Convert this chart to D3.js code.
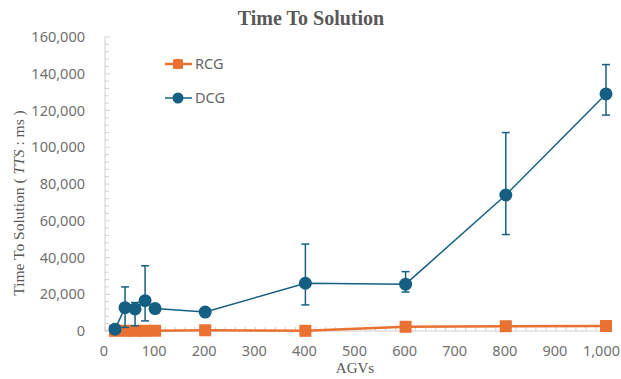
<!DOCTYPE html>
<html>
<head>
<meta charset="utf-8">
<script src="https://cdn.jsdelivr.net/npm/d3@7"></script>
<style>
  body { margin: 0; background: #fff; }
  svg { display: block; }
</style>
</head>
<body>
<svg width="621" height="379"></svg>
<script>
// dữ liệu
const agvs = [20, 40, 60, 80, 100, 200, 400, 600, 800, 1000];
const dcgValues = [1000, 12700, 12000, 16500, 12200, 10300, 26000, 25500, 74000, 129000];
const dcgLow    = [1000, 2000, 2800, 5500, 11500, 10000, 14200, 21200, 52500, 117500];
const dcgHigh   = [1000, 24000, 15500, 35500, 13000, 10600, 47300, 32300, 108000, 145000];
const rcgValues = [100, 100, 100, 100, 150, 400, 100, 2300, 2600, 2700];
const rcgLow    = [0, 0, 0, 0, 0, 0, 0, 1500, 1800, 1900];
const rcgHigh   = [600, 600, 600, 600, 700, 900, 600, 3100, 3400, 3500];
const yTicks = [0, 20000, 40000, 60000, 80000, 100000, 120000, 140000, 160000];
const xTicks = [0, 100, 200, 300, 400, 500, 600, 700, 800, 900, 1000];

const orange = "#E97132", blue = "#156082";

const svg = d3.select("svg");
const pLeft = 105, pRight = 606, pTop = 37, pBottom = 331;

const x = d3.scaleLinear().domain([0, 1000]).range([pLeft, pRight]);
const y = d3.scaleLinear().domain([0, 160000]).range([pBottom, pTop]);

// khung trục
svg.append("line").attr("x1", pLeft).attr("x2", pLeft).attr("y1", pTop).attr("y2", pBottom)
   .attr("stroke", "#d0d0d0").attr("stroke-width", 1);
svg.append("line").attr("x1", pLeft).attr("x2", 611).attr("y1", pBottom).attr("y2", pBottom)
   .attr("stroke", "#d0d0d0").attr("stroke-width", 1);

// vạch phụ trục Y
svg.append("g").selectAll("line")
   .data(d3.range(0, 160001, 4000))
   .enter().append("line")
   .attr("x1", pLeft).attr("x2", d => d % 20000 === 0 ? pLeft + 5 : pLeft + 4)
   .attr("y1", d => y(d)).attr("y2", d => y(d))
   .attr("stroke", "#d0d0d0");

// vạch phụ trục X
svg.append("g").selectAll("line")
   .data(d3.range(0, 1001, 20))
   .enter().append("line")
   .attr("x1", d => x(d)).attr("x2", d => x(d))
   .attr("y1", pBottom).attr("y2", pBottom - 4)
   .attr("stroke", "#d0d0d0");

// nhãn trục
const fmt = d3.format(",");
svg.append("g").selectAll("text")
   .data(yTicks).enter().append("text")
   .attr("x", 85).attr("y", d => y(d) + 5)
   .attr("text-anchor", "end")
   .style("font-family", "Noto Sans, sans-serif").style("font-size", "14.5px")
   .attr("fill", "#707070")
   .text(fmt);

svg.append("g").selectAll("text")
   .data(xTicks).enter().append("text")
   .attr("x", d => x(d) - 1).attr("y", 356)
   .attr("text-anchor", "middle")
   .style("font-family", "Noto Sans, sans-serif").style("font-size", "14.5px")
   .attr("fill", "#707070")
   .text(fmt)
   .each(function() {
     // giữ nhãn cuối trong khung
     const b = this.getBBox();
     if (b.x + b.width > 620) d3.select(this).attr("x", +d3.select(this).attr("x") - (b.x + b.width - 620));
   });

// tiêu đề
svg.append("text").attr("x", 311).attr("y", 25).attr("text-anchor", "middle")
   .style("font-family", "Liberation Serif, serif").style("font-size", "20px")
   .style("font-weight", "bold").attr("fill", "#595959")
   .text("Time To Solution");

svg.append("text").attr("x", 355).attr("y", 373).attr("text-anchor", "middle")
   .style("font-family", "Liberation Serif, serif").style("font-size", "15px")
   .attr("fill", "#595959").text("AGVs");

const yt = svg.append("text")
   .attr("transform", "translate(24,203) rotate(-90)")
   .attr("text-anchor", "middle")
   .style("font-family", "Liberation Serif, serif").style("font-size", "15.5px")
   .attr("fill", "#595959");
yt.append("tspan").text("Time To Solution ( ");
yt.append("tspan").style("font-style", "italic").text("TTS");
yt.append("tspan").text(" : ms )");

// vẽ chuỗi
function drawSeries(vals, lo, hi, color, marker) {
  const pts = agvs.map((a, i) => ({ a, v: vals[i], lo: lo[i], hi: hi[i] }));
  const g = svg.append("g");
  g.selectAll(".err").data(pts.filter(d => d.hi > d.lo)).enter().append("g").each(function(d) {
    const e = d3.select(this);
    e.append("line").attr("x1", x(d.a)).attr("x2", x(d.a)).attr("y1", y(d.lo)).attr("y2", y(d.hi))
     .attr("stroke", color).attr("stroke-width", 1.5);
    [d.lo, d.hi].forEach(v => e.append("line")
      .attr("x1", x(d.a) - 4).attr("x2", x(d.a) + 4).attr("y1", y(v)).attr("y2", y(v))
      .attr("stroke", color).attr("stroke-width", 1.5));
  });
  g.append("path").datum(pts)
   .attr("d", d3.line().x(d => x(d.a)).y(d => y(d.v)))
   .attr("fill", "none").attr("stroke", color).attr("stroke-width", marker === "circle" ? 1.5 : 2.5);
  if (marker === "circle") {
    g.selectAll("circle").data(pts).enter().append("circle")
     .attr("cx", d => x(d.a)).attr("cy", d => y(d.v)).attr("r", 6.5).attr("fill", color);
  } else {
    g.selectAll("rect").data(pts).enter().append("rect")
     .attr("x", d => x(d.a) - 6).attr("y", d => y(d.v) - 6).attr("width", 12).attr("height", 12)
     .attr("fill", color);
  }
}
drawSeries(rcgValues, rcgLow, rcgHigh, orange, "square");
drawSeries(dcgValues, dcgLow, dcgHigh, blue, "circle");

// chú thích
const legend = [{ name: "RCG", color: orange, m: "square", yy: 64 }, { name: "DCG", color: blue, m: "circle", yy: 98 }];
legend.forEach(l => {
  svg.append("line").attr("x1", 165).attr("x2", 192).attr("y1", l.yy).attr("y2", l.yy)
     .attr("stroke", l.color).attr("stroke-width", l.m === "square" ? 2.5 : 1.5);
  if (l.m === "square") {
    svg.append("rect").attr("x", 173).attr("y", l.yy - 5).attr("width", 10).attr("height", 10)
       .attr("rx", 1.5).attr("fill", l.color);
  } else {
    svg.append("circle").attr("cx", 178).attr("cy", l.yy).attr("r", 5.5).attr("fill", l.color);
  }
  svg.append("text").attr("x", 195).attr("y", l.yy + 5)
     .style("font-family", "Noto Sans, sans-serif").style("font-size", "14.5px")
     .attr("fill", "#666").text(l.name);
});
</script>
</body>
</html>
